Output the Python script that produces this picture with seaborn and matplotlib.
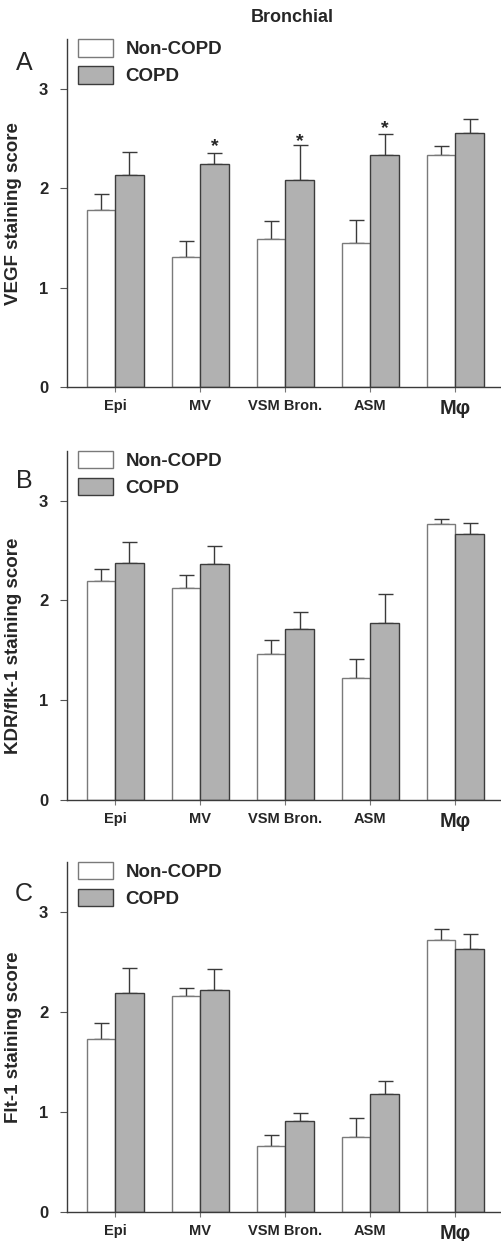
import numpy as np
import pandas as pd
import matplotlib
matplotlib.use("Agg")
import matplotlib.pyplot as plt
import matplotlib.transforms as mtransforms
import seaborn as sns

# ---------------- data ----------------
regions = ["Epi", "MV", "VSM Bron.", "ASM", "Mφ"]
groups = ["Non-COPD", "COPD"]

vegf_non = [1.78, 1.31, 1.49, 1.45, 2.34]
vegf_non_err = [0.16, 0.16, 0.18, 0.23, 0.09]
vegf_copd = [2.14, 2.25, 2.08, 2.34, 2.56]
vegf_copd_err = [0.23, 0.11, 0.36, 0.21, 0.14]
vegf_star_regions = ["MV", "VSM Bron.", "ASM"]
vegf_star_y = [2.49, 2.54, 2.665]

kdr_non = [2.19, 2.12, 1.46, 1.22, 2.77]
kdr_non_err = [0.12, 0.13, 0.14, 0.19, 0.05]
kdr_copd = [2.37, 2.36, 1.71, 1.77, 2.67]
kdr_copd_err = [0.22, 0.19, 0.17, 0.29, 0.11]

flt_non = [1.73, 2.16, 0.66, 0.75, 2.72]
flt_non_err = [0.16, 0.08, 0.11, 0.19, 0.11]
flt_copd = [2.19, 2.22, 0.91, 1.18, 2.63]
flt_copd_err = [0.25, 0.21, 0.08, 0.13, 0.15]

y_ticks = [0, 1, 2, 3]
panel_letters = ["A", "B", "C"]
y_labels = ["VEGF staining score", "KDR/flk-1 staining score", "Flt-1 staining score"]
title = "Bronchial"

# ---------------- style ----------------
sns.set_style("white")
plt.rcParams["font.family"] = ["Liberation Sans", "DejaVu Sans"]

W, H = 502, 1241
fig = plt.figure(figsize=(W / 100, H / 100), dpi=100)

fill_colors = {"Non-COPD": "#ffffff", "COPD": "#b1b1b1"}
edge_colors = {"Non-COPD": "#7a7a7a", "COPD": "#3c3c3c"}

# axes boxes in pixels: (top, bottom)
boxes = [(39.3, 387.3), (450.7, 800.0), (862.0, 1211.7)]
left_px, right_px = 66.7, 502.0
letter_pos = [(24, 63), (24, 481), (24, 894)]
ylabel_frac = [0.5, 0.44, 0.5]

panels = [
    (vegf_non, vegf_non_err, vegf_copd, vegf_copd_err),
    (kdr_non, kdr_non_err, kdr_copd, kdr_copd_err),
    (flt_non, flt_non_err, flt_copd, flt_copd_err),
]

for i, (non, non_err, copd, copd_err) in enumerate(panels):
    top, bot = boxes[i]
    ax = fig.add_axes([left_px / W, 1 - bot / H, (right_px - left_px) / W, (bot - top) / H])
    df = pd.DataFrame({
        "region": regions * 2,
        "group": [groups[0]] * len(regions) + [groups[1]] * len(regions),
        "score": list(non) + list(copd),
    })
    sns.barplot(data=df, x="region", y="score", hue="group", order=regions,
                hue_order=groups, palette=fill_colors, width=0.667,
                errorbar=None, legend=False, ax=ax, linewidth=1.0, saturation=1)
    bar_conts = list(ax.containers)
    errs = [non_err, copd_err]
    for g, cont in enumerate(bar_conts):
        for p in cont.patches:
            p.set_edgecolor(edge_colors[groups[g]])
            p.set_linewidth(1.0)
            p.set_zorder(2)
        xs = [p.get_x() + p.get_width() / 2 for p in cont.patches]
        hs = [p.get_height() for p in cont.patches]
        e = np.array(errs[g])
        ax.errorbar(xs, hs, yerr=[np.zeros_like(e), e], fmt="none",
                    ecolor="#3a3a3a", elinewidth=1.0, capsize=5.4,
                    capthick=1.0, zorder=1)

    if i == 0:
        cont = bar_conts[1]
        tr = mtransforms.offset_copy(ax.transData, fig=fig, x=0, y=-8, units="points")
        for reg, sy in zip(vegf_star_regions, vegf_star_y):
            p = cont.patches[regions.index(reg)]
            ax.text(p.get_x() + p.get_width() / 2, sy, "*", ha="center",
                    va="baseline", fontsize=14, fontweight="bold", transform=tr)

    ax.set_xlim(-0.572, 4.549)
    ax.set_ylim(0, 3.5)
    ax.set_yticks(y_ticks)
    ax.set_yticklabels([str(t) for t in y_ticks], fontsize=12, fontweight="bold")
    ax.set_xticks(range(len(regions)))
    ax.set_xticklabels(regions, fontsize=10.5, fontweight="bold")
    ax.get_xticklabels()[-1].set_fontsize(14.5)
    ax.tick_params(axis="y", direction="out", length=4.8, width=0.8,
                   color="#555555", pad=8.5, left=True)
    ax.tick_params(axis="x", direction="out", length=3.6, width=0.8,
                   color="#777777", pad=5, bottom=True)
    for s in ["top", "right"]:
        ax.spines[s].set_visible(False)
    for s in ["left", "bottom"]:
        ax.spines[s].set_color("#3a3a3a")
        ax.spines[s].set_linewidth(1.0)
    ax.set_xlabel("")
    ax.set_ylabel(y_labels[i], fontsize=13.5, fontweight="bold")
    ax.yaxis.set_label_coords(-0.1027, ylabel_frac[i])

    handles = [bar_conts[0].patches[0], bar_conts[1].patches[0]]
    ax.legend(handles=handles, labels=groups, loc="upper left",
              bbox_to_anchor=(0.026, 1.0), frameon=False, borderpad=0,
              borderaxespad=0, prop={"weight": "bold", "size": 13.5},
              handlelength=1.87, handleheight=1.05, handletextpad=0.65,
              labelspacing=0.42)

    lx, ly = letter_pos[i]
    fig.text(lx / W, 1 - ly / H, panel_letters[i], ha="center", va="center",
             fontsize=18)

fig.text(292 / W, 1 - 17 / H, title, ha="center", va="center",
         fontsize=13, fontweight="bold")

fig.savefig("out.png", dpi=100)
